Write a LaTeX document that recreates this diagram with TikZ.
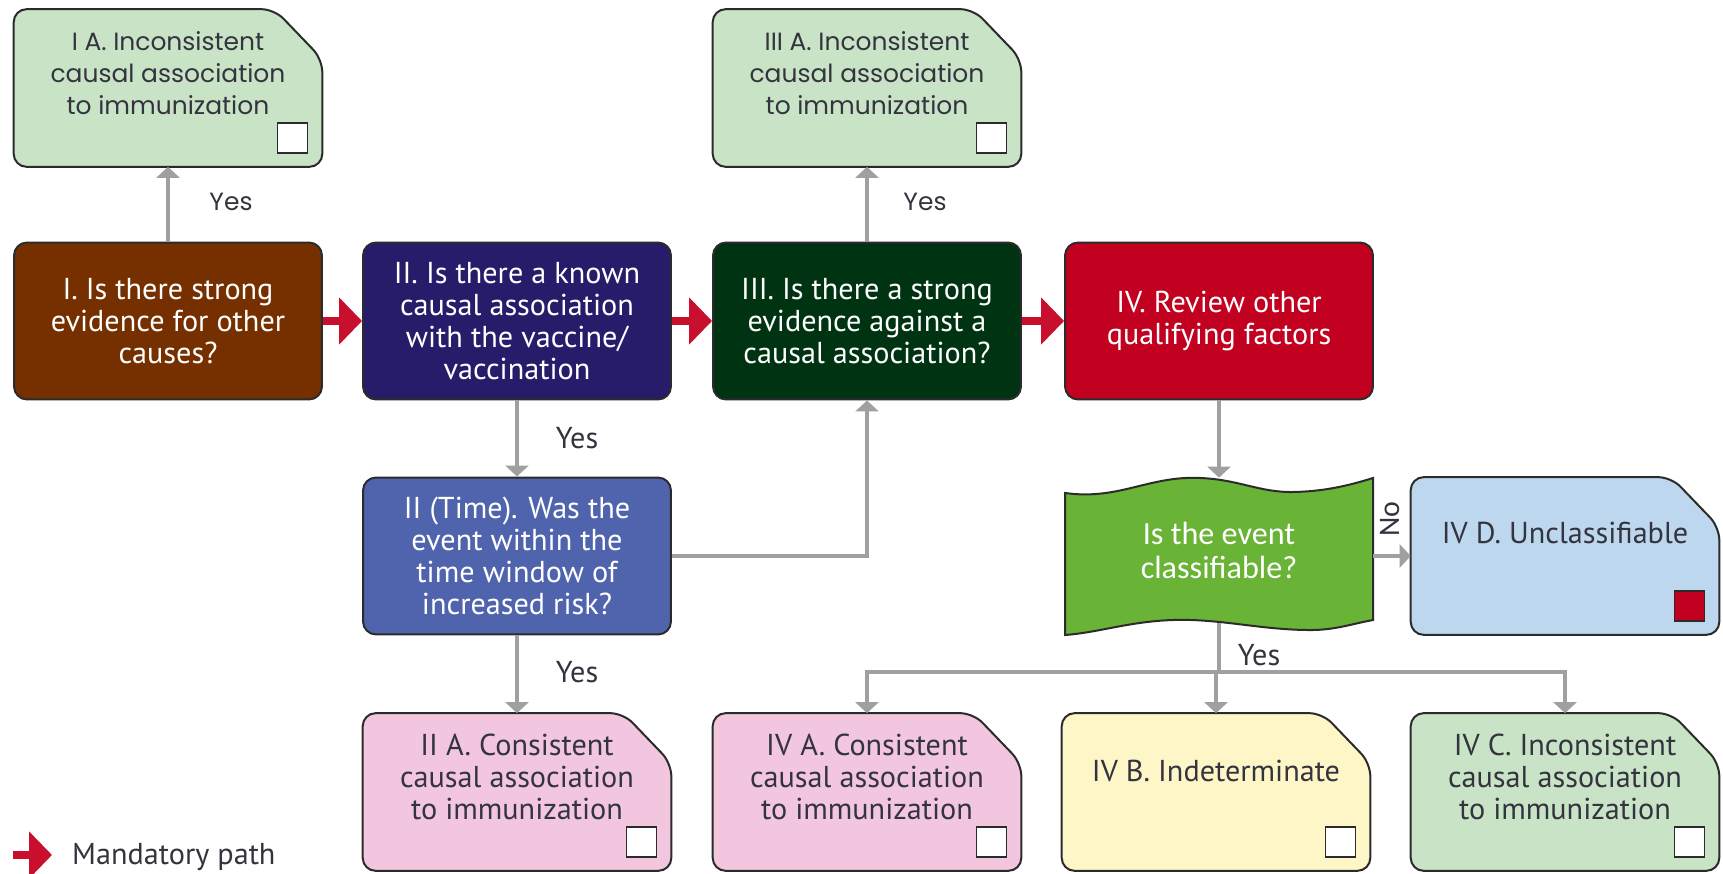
\documentclass[tikz,border=0pt]{standalone}
\usepackage{fontspec}
\setmainfont{PT Sans}
\newfontfamily\widefont{Poppins}
\newfontfamily\calfont{Carlito}
\usetikzlibrary{arrows.meta,calc}
\pgfdeclarelayer{background}
\pgfsetlayers{background,main}

\definecolor{notegreen}{HTML}{C8E3C5}
\definecolor{notepink}{HTML}{F3C6E0}
\definecolor{noteyellow}{HTML}{FFF6C8}
\definecolor{noteblue}{HTML}{BDD7EF}
\definecolor{qbrown}{HTML}{763000}
\definecolor{qnavy}{HTML}{261C6A}
\definecolor{qdkgreen}{HTML}{003312}
\definecolor{qred}{HTML}{C20020}
\definecolor{qtime}{HTML}{5064AE}
\definecolor{qgreen}{HTML}{69B336}
\definecolor{boxline}{HTML}{2B2B2B}
\definecolor{notetext}{HTML}{34343F}
\definecolor{linkgray}{HTML}{A0A0A0}
\definecolor{mandred}{HTML}{C8102E}

\tikzset{
  boxtext/.style={font=\fontsize{17.2}{18.2}\selectfont, align=center},
  widetext/.style={font=\widefont\fontsize{14.2}{18.2}\selectfont},
  question/.style={boxtext, draw=boxline, line width=0.04cm, rounded corners=0.26cm,
    minimum width=6.16cm, minimum height=3.14cm, inner sep=0, text=white},
  outbox/.style={minimum width=6.16cm, minimum height=3.14cm, inner sep=0},
  outtext/.style={boxtext, text=notetext},
  checkbox/.style={draw=boxline, line width=0.035cm, minimum size=0.6cm, inner sep=0},
  link/.style={draw=linkgray, line width=0.07cm, -{Triangle[length=0.22cm,width=0.46cm]}},
  mandatory/.style={draw=mandred, line width=0.16cm, -{Triangle[length=0.46cm,width=0.92cm]}},
  answer/.style={font=\fontsize{17.2}{18.2}\selectfont, text=notetext},
}

\newcommand{\outcome}[6][]{%
  \node[outbox] (#2) at (#3) {};
  \begin{pgfonlayer}{background}
    \draw[draw=boxline, line width=0.04cm, rounded corners=0.26cm, fill=#4] (#2.south west) -- (#2.north west) -- ($(#2.north east)+(-48,0)$) -- ($(#2.north east)+(0,50)$) -- (#2.south east) -- cycle;
  \end{pgfonlayer}
  \node[checkbox, fill=#5, anchor=south east] (#2chk) at ($(#2.south east)+(-14,-13)$) {};
  \node[outtext, #1] (#2txt) at ($(#2)+(0,-15)$) {#6};
}

\begin{document}
\begin{tikzpicture}[x=0.02cm, y=-0.02cm]
\useasboundingbox (0,0) rectangle (1723,874);

\node[question, fill=qbrown] (i) at (168,321) {I. Is there strong\\evidence for other\\causes?};
\node[question, fill=qnavy] (ii) at (517,321) {II. Is there a known\\causal association\\with the vaccine/\\vaccination};
\node[question, fill=qdkgreen] (iii) at (867,321) {III. Is there a strong\\evidence against a\\causal association?};
\node[question, fill=qred] (iv) at (1219,321) {IV. Review other\\qualifying factors};
\node[question, fill=qtime] (iit) at (517,556) {II (Time). Was the\\event within the\\time window of\\increased risk?};

\outcome[widetext]{ia}{168,88}{notegreen}{white}{I A. Inconsistent\\causal association\\to immunization}
\outcome[widetext]{iiia}{867,88}{notegreen}{white}{III A. Inconsistent\\causal association\\to immunization}
\outcome{iia}{517,792}{notepink}{white}{II A. Consistent\\causal association\\to immunization}
\outcome{iva}{867,792}{notepink}{white}{IV A. Consistent\\causal association\\to immunization}
\outcome[yshift=0.12cm]{ivb}{1216,792}{noteyellow}{white}{IV B. Indeterminate}
\outcome{ivc}{1565,792}{notegreen}{white}{IV C. Inconsistent\\causal association\\to immunization}
\outcome[yshift=0.16cm]{ivd}{1565,556}{noteblue}{qred}{IV D. Unclassifiable}

\node[font=\calfont\fontsize{18.3}{19.5}\selectfont, text=white, align=center, minimum width=6.16cm, minimum height=2.9cm, inner sep=0] (classify) at (1219,550.5) {Is the event\\classifiable?};
\begin{pgfonlayer}{background}
\begin{scope}[shift={(classify.center)}]
\draw[draw=boxline, line width=0.04cm, fill=qgreen] (-154,-57.5) .. controls (-100,-50) and (-70,-75) .. (-19,-72.5) .. controls (20,-71) and (40,-58) .. (74,-58.5) .. controls (105,-59) and (130,-65) .. (154,-72.5) -- (154,69.5) .. controls (130,74) and (115,80) .. (88,79.5) .. controls (40,79) and (0,68) .. (-46,69.5) .. controls (-90,71) and (-120,82) .. (-154,84.5) -- cycle;
\end{scope}
\end{pgfonlayer}

\draw[mandatory] (i) -- (ii);
\draw[mandatory] (ii) -- (iii);
\draw[mandatory] (iii) -- (iv);

\draw[link] (i) -- (ia);
\draw[link] (iii) -- (iiia);
\draw[link] (ii) -- (iit);
\draw[link] (iit) -- (iia);
\draw[link] (iit.east) -| (iii.south);
\draw[link] (iv) -- (classify);
\draw[link] (ivd.west -| classify.east) -- (ivd.west);
\coordinate (split) at (1219,672);
\draw[draw=linkgray, line width=0.07cm] (classify.south) -- (split);
\draw[link] (split) -| (iva.north);
\draw[link] (split) -| (ivc.north);
\draw[link] (split -| ivb.north) -- (ivb.north);

\node[answer, widetext] (yesia) at (231,202) {Yes};
\node[answer, widetext] (yesiiia) at (925,202) {Yes};
\node[answer] (yesiit) at (577,438) {Yes};
\node[answer] (yesiia) at (577,672) {Yes};
\node[answer] (yesclass) at (1259,655) {Yes};
\node[answer, font=\calfont\fontsize{17}{18}\selectfont, rotate=90] (no) at (1390,519) {No};

\coordinate (legtail) at (13,855);
\coordinate (leghead) at (52,855);
\draw[mandatory] (legtail) -- (leghead);
\node[answer, anchor=west] (legend) at (66,857) {Mandatory path};
\end{tikzpicture}
\end{document}
